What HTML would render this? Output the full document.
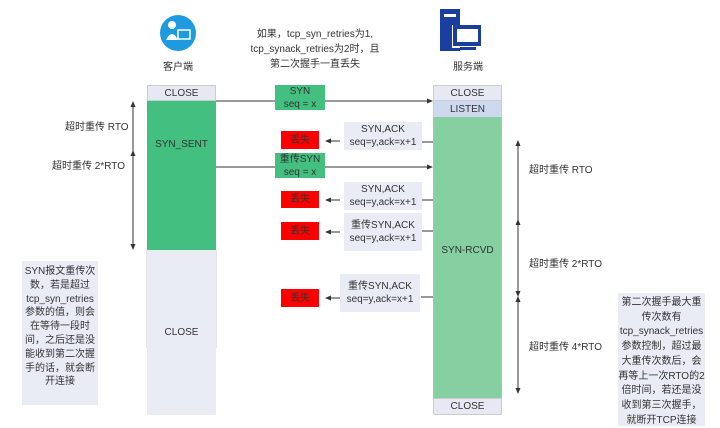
<!DOCTYPE html>
<html><head><meta charset="utf-8"><style>
body{margin:0;width:720px;height:426px;background:#fff;position:relative;overflow:hidden;font-family:"Liberation Sans","Noto Sans CJK SC",sans-serif;color:#333}
.a{position:absolute;box-sizing:border-box}
.c{display:flex;align-items:center;justify-content:center;text-align:center}
.t{font-size:10px;line-height:13px}
</style></head><body>
<svg class="a" style="left:0;top:0" width="720" height="426">
<defs><marker id="m" markerWidth="6" markerHeight="6" refX="5" refY="3" orient="auto"><path d="M0,0.5 L6,3 L0,5.5z" fill="#333"/></marker></defs>
<circle cx="178" cy="33" r="18" fill="#1e9be0"/>
<circle cx="172" cy="25" r="4" fill="#fff"/><path d="M166 40 q6-12 12 0z" fill="#fff"/><rect x="178" y="30" width="12" height="9" fill="none" stroke="#fff" stroke-width="1.5"/>
<rect x="440" y="9" width="20" height="42" fill="#1a3f9e"/><rect x="444" y="14" width="12" height="3" fill="#fff"/>
<rect x="452" y="25" width="30" height="23" fill="#fff"/><rect x="453" y="25" width="28" height="21" fill="#1a3f9e"/><rect x="457" y="29" width="21" height="13" fill="#fff"/><rect x="460" y="47" width="16" height="3" fill="#1a3f9e"/>
<g stroke="#333" stroke-width="1" fill="none">
<line x1="216" y1="101" x2="432" y2="101" marker-end="url(#m)"/>
<line x1="216" y1="167" x2="432" y2="167" marker-end="url(#m)"/>
<line x1="433" y1="142" x2="421" y2="142"/><line x1="340" y1="141" x2="326" y2="141" marker-end="url(#m)"/>
<line x1="433" y1="200" x2="421" y2="200"/><line x1="340" y1="200" x2="326" y2="200" marker-end="url(#m)"/>
<line x1="433" y1="231" x2="421" y2="231"/><line x1="340" y1="232" x2="326" y2="232" marker-end="url(#m)"/>
<line x1="433" y1="297" x2="421" y2="297"/><line x1="340" y1="298" x2="326" y2="298" marker-end="url(#m)"/>
<line x1="133" y1="152" x2="133" y2="102" marker-end="url(#m)"/><line x1="133" y1="152" x2="133" y2="249" marker-end="url(#m)"/>
<line x1="133" y1="155" x2="133" y2="151" marker-end="url(#m)"/>
<line x1="518" y1="220" x2="518" y2="141" marker-end="url(#m)"/><line x1="518" y1="220" x2="518" y2="296" marker-end="url(#m)"/>
<line x1="518" y1="297" x2="518" y2="393" marker-end="url(#m)"/>
<line x1="518" y1="224" x2="518" y2="220" marker-end="url(#m)"/><line x1="518" y1="300" x2="518" y2="297" marker-end="url(#m)"/>
</g>
<line x1="147" y1="250" x2="147" y2="348" stroke="#ccc"/><line x1="216" y1="250" x2="216" y2="348" stroke="#ccc"/>
</svg>
<div class="a t c" style="left:150px;top:61px;width:56px">客户端</div>
<div class="a t c" style="left:440px;top:61px;width:56px">服务端</div>
<div class="a t" style="left:235px;top:27px;width:160px;text-align:center;line-height:15px">如果，tcp_syn_retries为1,<br>tcp_synack_retries为2时，且<br>第二次握手一直丢失</div>
<div class="a c t" style="left:147px;top:85px;width:69px;height:16px;background:#e6e9f3;border:1px solid #ccc">CLOSE</div>
<div class="a c t" style="left:147px;top:101px;width:69px;height:149px;background:#43bf80;align-items:flex-start;padding-top:37px">SYN_SENT</div>
<div class="a c t" style="left:147px;top:250px;width:69px;height:165px;background:#e9ecf5">CLOSE</div>
<div class="a c t" style="left:433px;top:85px;width:69px;height:16px;background:#e6e9f3;border:1px solid #ccc">CLOSE</div>
<div class="a c t" style="left:433px;top:101px;width:69px;height:16px;background:#cdd9ee;border-left:1px solid #ccc;border-right:1px solid #ccc">LISTEN</div>
<div class="a c t" style="left:433px;top:117px;width:69px;height:281px;background:#85cfa0;border-left:1px solid #bbb;border-right:1px solid #bbb;padding-bottom:14px">SYN-RCVD</div>
<div class="a c t" style="left:433px;top:398px;width:69px;height:17px;background:#e6e9f3;border:1px solid #ccc">CLOSE</div>
<div class="a c t" style="left:275px;top:85px;width:50px;height:25px;background:#43bf80">SYN<br>seq = x</div>
<div class="a c t" style="left:275px;top:153px;width:50px;height:25px;background:#43bf80">重传SYN<br>seq = x</div>
<div class="a c t" style="left:281px;top:131px;width:38px;height:18px;background:#f00">丢失</div>
<div class="a c t" style="left:281px;top:191px;width:38px;height:17px;background:#f00">丢失</div>
<div class="a c t" style="left:281px;top:222px;width:38px;height:18px;background:#f00">丢失</div>
<div class="a c t" style="left:281px;top:289px;width:38px;height:18px;background:#f00">丢失</div>
<div class="a c t" style="left:344px;top:122px;width:78px;height:28px;background:#e9ecf5">SYN,ACK<br>seq=y,ack=x+1</div>
<div class="a c t" style="left:344px;top:182px;width:78px;height:28px;background:#e9ecf5">SYN,ACK<br>seq=y,ack=x+1</div>
<div class="a c t" style="left:344px;top:213px;width:78px;height:38px;background:#e9ecf5">重传SYN,ACK<br>seq=y,ack=x+1</div>
<div class="a c t" style="left:340px;top:274px;width:80px;height:38px;background:#e9ecf5">重传SYN,ACK<br>seq=y,ack=x+1</div>
<div class="a t" style="left:65px;top:121px">超时重传 RTO</div>
<div class="a t" style="left:52px;top:160px">超时重传 2*RTO</div>
<div class="a t" style="left:529px;top:164px">超时重传 RTO</div>
<div class="a t" style="left:529px;top:258px">超时重传 2*RTO</div>
<div class="a t" style="left:529px;top:341px">超时重传 4*RTO</div>
<div class="a t" style="left:22px;top:261px;width:76px;height:144px;background:#e9ecf5;text-align:center;padding-top:4px;line-height:13.8px">SYN报文重传次数，若是超过tcp_syn_retries参数的值，则会在等待一段时间，之后还是没能收到第二次握手的话，就会断开连接</div>
<div class="a t" style="left:618px;top:293px;width:87px;height:133px;background:#e9ecf5;text-align:center;padding-top:3px;line-height:14.7px;white-space:nowrap;overflow:visible">第二次握手最大重<br>传次数有<br>tcp_synack_retries<br>参数控制，超过最<br>大重传次数后，会<br>再等上一次RTO的2<br>倍时间，若还是没<br>收到第三次握手，<br>就断开TCP连接</div>
</body></html>
